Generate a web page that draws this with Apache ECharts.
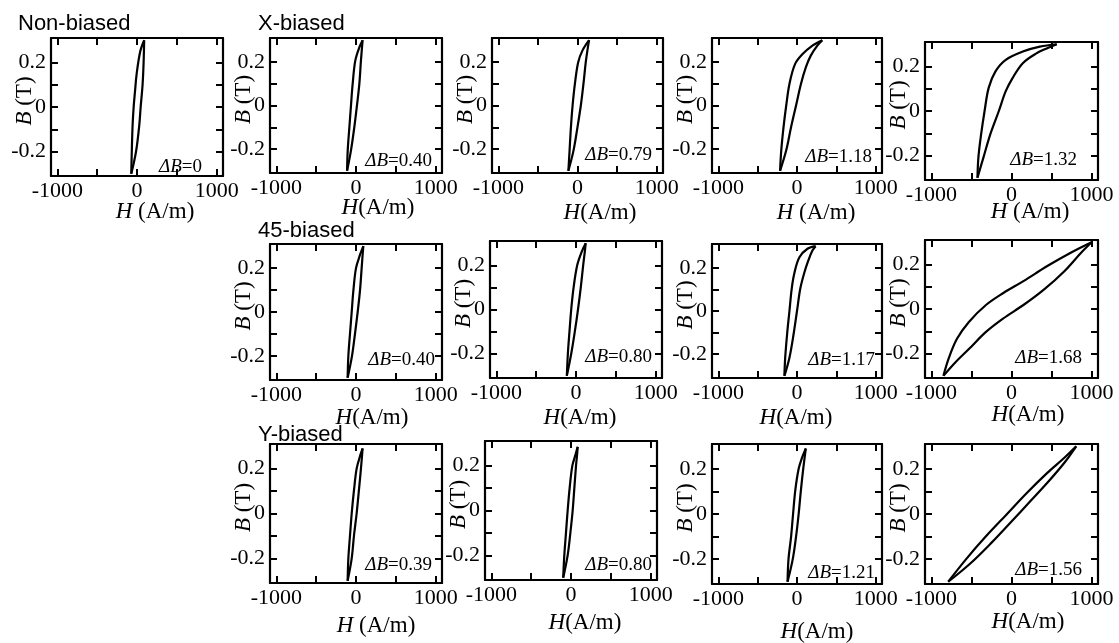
<!DOCTYPE html>
<html><head><meta charset="utf-8">
<script src="https://cdn.jsdelivr.net/npm/echarts@6.0.0/dist/echarts.min.js"></script>
<style>html,body{margin:0;padding:0;background:#fff}#c{width:1119px;height:643px}</style>
</head><body><div id="c"></div>
<script>
// ---------- data ----------
const hTicks = [-1000, -500, 0, 500, 1000];
const hLabels = [-1000, 0, 1000];
const bTicks = [-0.2, -0.1, 0, 0.1, 0.2];
const bLabels = [-0.2, 0, 0.2];
const rowTitles = ['Non-biased', 'X-biased', '45-biased', 'Y-biased'];
const deltaB = ['0', '0.40', '0.79', '1.18', '1.32', '0.40', '0.80', '1.17', '1.68', '0.39', '0.80', '1.21', '1.56'];

// Non-biased
const nonAsc  = [[-72,-0.30],[-12,-0.20],[29,-0.08],[46,0],[70,0.10],[83,0.20],[90,0.30]];
const nonDesc = [[90,0.30],[41,0.25],[-4,0.15],[-25,0.07],[-42,0],[-55,-0.08],[-64,-0.18],[-72,-0.30]];
// X-biased
const x040Asc  = [[-112,-0.30],[-63,-0.206],[-21,-0.099],[12,0],[42,0.099],[62,0.206],[83,0.30]];
const x040Desc = [[83,0.30],[42,0.267],[-9,0.206],[-42,0.099],[-63,0],[-83,-0.099],[-104,-0.206],[-112,-0.30]];
const x079Asc  = [[-115,-0.30],[-50,-0.206],[0,-0.099],[42,0],[75,0.099],[104,0.198],[125,0.252],[146,0.30]];
const x079Desc = [[146,0.30],[62,0.252],[8,0.198],[-33,0.099],[-62,0],[-83,-0.099],[-100,-0.206],[-115,-0.30]];
const x118Asc  = [[-215,-0.30],[-137,-0.206],[-75,-0.099],[-12,0],[50,0.099],[112,0.175],[175,0.229],[258,0.275],[321,0.30]];
const x118Desc = [[321,0.30],[196,0.275],[71,0.236],[-25,0.19],[-96,0.099],[-137,0],[-171,-0.099],[-200,-0.206],[-215,-0.30]];
const x132Asc  = [[-425,-0.30],[-349,-0.207],[-264,-0.104],[-158,0],[-72,0.089],[13,0.148],[141,0.215],[311,0.259],[439,0.281],[565,0.30]];
const x132Desc = [[565,0.30],[354,0.289],[141,0.267],[-72,0.23],[-200,0.178],[-285,0.104],[-336,0],[-379,-0.104],[-413,-0.207],[-425,-0.30]];
// 45-biased
const d040Asc  = [[-105,-0.30],[-50,-0.20],[-12,-0.097],[21,0],[50,0.097],[71,0.20],[83,0.26],[92,0.30]];
const d040Desc = [[92,0.30],[50,0.26],[0,0.20],[-33,0.097],[-54,0],[-75,-0.097],[-96,-0.20],[-105,-0.30]];
const d080Asc  = [[-115,-0.30],[-60,-0.20],[-15,-0.10],[25,0],[60,0.10],[90,0.20],[110,0.26],[122,0.30]];
const d080Desc = [[122,0.30],[70,0.26],[15,0.20],[-30,0.10],[-60,0],[-82,-0.10],[-102,-0.20],[-115,-0.30]];
const d117Asc  = [[-160,-0.30],[-96,-0.216],[-42,-0.104],[0,0],[42,0.104],[92,0.176],[142,0.232],[196,0.28],[237,0.30]];
const d117Desc = [[237,0.30],[133,0.288],[29,0.248],[-33,0.176],[-67,0.104],[-96,0],[-125,-0.104],[-150,-0.216],[-160,-0.30]];
const d168Asc  = [[-850,-0.30],[-702,-0.24],[-532,-0.18],[-319,-0.103],[-106,-0.043],[149,0.018],[404,0.087],[660,0.17],[872,0.254],[1000,0.30]];
const d168Desc = [[1000,0.30],[745,0.254],[447,0.193],[149,0.125],[-106,0.071],[-319,0.018],[-532,-0.058],[-681,-0.134],[-787,-0.225],[-850,-0.30]];
// Y-biased
const y039Asc  = [[-105,-0.30],[-54,-0.20],[-25,-0.097],[8,0],[37,0.105],[62,0.20],[75,0.255],[83,0.29]];
const y039Desc = [[83,0.29],[50,0.255],[8,0.20],[-25,0.105],[-54,0],[-75,-0.097],[-96,-0.20],[-105,-0.30]];
const y080Asc  = [[-98,-0.30],[-42,-0.20],[-8,-0.10],[21,0],[42,0.10],[63,0.20],[76,0.247],[84,0.284]];
const y080Desc = [[84,0.284],[55,0.247],[17,0.20],[-17,0.10],[-42,0],[-63,-0.10],[-84,-0.20],[-98,-0.30]];
const y121Asc  = [[-120,-0.30],[-54,-0.20],[-12,-0.10],[21,0],[50,0.107],[79,0.20],[96,0.247],[112,0.29]];
const y121Desc = [[112,0.29],[62,0.247],[21,0.20],[-21,0.107],[-50,0],[-75,-0.10],[-108,-0.20],[-120,-0.30]];
const y156Asc  = [[-790,-0.30],[-511,-0.218],[-255,-0.129],[0,-0.033],[234,0.056],[447,0.138],[660,0.227],[808,0.30]];
const y156Desc = [[808,0.30],[660,0.249],[447,0.182],[191,0.093],[-64,-0.003],[-319,-0.099],[-574,-0.203],[-790,-0.30]];

const loops = [
  [nonAsc, nonDesc], [x040Asc, x040Desc], [x079Asc, x079Desc], [x118Asc, x118Desc], [x132Asc, x132Desc],
  [d040Asc, d040Desc], [d080Asc, d080Desc], [d117Asc, d117Desc], [d168Asc, d168Desc],
  [y039Asc, y039Desc], [y080Asc, y080Desc], [y121Asc, y121Desc], [y156Asc, y156Desc]
];

// ---------- layout ----------
const boxes = [
  [51,38,172,138],[270,38,172,135],[492,38,171,135],[712,38,170,135],[925,42,173,138],
  [270,244,172,136],[490,241,172,137],[712,244,170,134],[925,240,173,138],
  [270,444,172,139],[485,441,172,139],[712,444,170,140],[925,444,173,140]
];
const xNamePos = [[155,212],[378,208],[600,213],[816,213],[1030,212],[372,418],[580,418],[796,418],[1028,415],[376,626],[585,623],[817,632],[1028,622]];
const xNameSpace = [true,false,false,true,true,false,false,false,false,true,false,false,false];
const dbPos = [[202,167],[432,161],[652,155],[872,157],[1077,160],[435,360],[652,357],[875,360],[1082,358],[432,565],[652,565],[875,573],[1082,570]];
const titlePos = [[18,24],[258,24],[258,231],[258,435]];

const SERIF = 'Liberation Serif, Times New Roman, serif';
const SANS = 'Liberation Sans, Arial, sans-serif';
const BLACK = '#000';
const fmt = v => String(v);

const grid = [], xAxis = [], yAxis = [], series = [], graphic = [];

function xAx(i, pos, labels) {
  return {
    gridIndex: i, type: 'value', min: -1080, max: 1080, position: pos,
    axisLine: { show: true, onZero: false, lineStyle: { color: BLACK, width: 2.2 } },
    axisTick: { show: true, inside: true, length: 7, customValues: hTicks, lineStyle: { color: BLACK, width: 2 } },
    axisLabel: labels ? { show: true, customValues: hLabels, formatter: fmt, margin: 4, fontFamily: SERIF, fontSize: 22, color: BLACK } : { show: false },
    splitLine: { show: false }
  };
}
function yAx(i, pos, labels) {
  return {
    gridIndex: i, type: 'value', min: -0.31, max: 0.31, position: pos,
    axisLine: { show: true, onZero: false, lineStyle: { color: BLACK, width: 2.2 } },
    axisTick: { show: true, inside: true, length: 7, customValues: bTicks, lineStyle: { color: BLACK, width: 2 } },
    axisLabel: labels ? { show: true, customValues: bLabels, formatter: fmt, margin: 5, fontFamily: SERIF, fontSize: 22, color: BLACK } : { show: false },
    splitLine: { show: false }
  };
}

boxes.forEach((b, i) => {
  grid.push({ left: b[0], top: b[1], width: b[2], height: b[3], containLabel: false, outerBoundsMode: 'none', show: false });
  xAxis.push(xAx(i, 'bottom', true));
  xAxis.push(xAx(i, 'top', false));
  yAxis.push(yAx(i, 'left', true));
  yAxis.push(yAx(i, 'right', false));
  loops[i].forEach(br => {
    series.push({
      type: 'line', xAxisIndex: 2 * i, yAxisIndex: 2 * i, data: br,
      showSymbol: false, smooth: 0.35, silent: true,
      lineStyle: { color: BLACK, width: 2.2 }
    });
  });
  graphic.push({
    type: 'text', x: b[0] - 26, y: b[1] + b[3] / 2 - 6, rotation: Math.PI / 2,
    style: {
      text: '{i|B}{r| (T)}', x: 0, y: 0,
      align: 'center', verticalAlign: 'middle', textAlign: 'center', textVerticalAlign: 'middle',
      rich: { i: { fontStyle: 'italic', fontFamily: SERIF, fontSize: 23, fill: BLACK },
              r: { fontFamily: SERIF, fontSize: 23, fill: BLACK } }
    }
  });
  graphic.push({
    type: 'text', x: xNamePos[i][0], y: xNamePos[i][1],
    style: {
      text: xNameSpace[i] ? '{i|H}{r| (A/m)}' : '{i|H}{r|(A/m)}', x: 0, y: 0,
      align: 'center', verticalAlign: 'middle', textAlign: 'center', textVerticalAlign: 'middle',
      rich: { i: { fontStyle: 'italic', fontFamily: SERIF, fontSize: 23, fill: BLACK },
              r: { fontFamily: SERIF, fontSize: 23, fill: BLACK } }
    }
  });
  graphic.push({
    type: 'text', x: dbPos[i][0], y: dbPos[i][1],
    style: {
      text: '{i|ΔB}{r|=' + deltaB[i] + '}', x: 0, y: 0,
      align: 'right', verticalAlign: 'middle', textAlign: 'right', textVerticalAlign: 'middle',
      rich: { i: { fontStyle: 'italic', fontFamily: SERIF, fontSize: 19, fill: BLACK },
              r: { fontFamily: SERIF, fontSize: 19, fill: BLACK } }
    }
  });
});

rowTitles.forEach((t, k) => {
  graphic.push({
    type: 'text', x: titlePos[k][0], y: titlePos[k][1],
    style: { text: t, x: 0, y: 0, fontFamily: SANS, fontSize: 22, fill: BLACK,
             align: 'left', verticalAlign: 'middle', textAlign: 'left', textVerticalAlign: 'middle' }
  });
});

const chart = echarts.init(document.getElementById('c'), null, { renderer: 'canvas' });
chart.setOption({ animation: false, backgroundColor: '#fff', grid, xAxis, yAxis, series, graphic });
</script></body></html>
